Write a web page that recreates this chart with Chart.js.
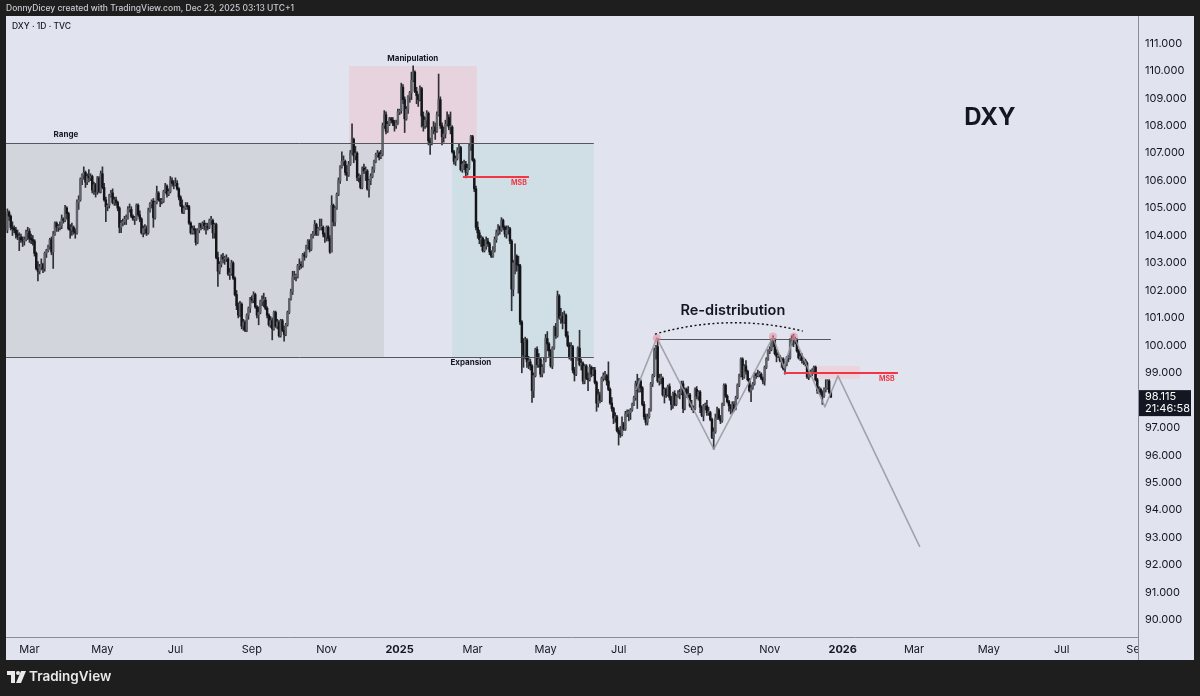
<!DOCTYPE html>
<html><head><meta charset="utf-8">
<script src="https://cdn.jsdelivr.net/npm/chart.js@4.4.1/dist/chart.umd.min.js"></script>
<style>html,body{margin:0;padding:0;background:#1e1e1e;overflow:hidden}</style>
</head><body>
<canvas id="c" width="1200" height="696"></canvas>
<script>
// ---------- DATA (daily OHLC [open, high, low, close]) ----------
const startDate = [2024, 2, 13];
const feb24 = [[104.20,104.97,104.10,104.85],[104.85,104.90,104.55,104.70],[104.70,104.75,104.20,104.30],[104.30,104.50,104.00,104.25],[104.25,104.35,104.10,104.20],[104.20,104.30,103.90,104.05],[104.05,104.20,103.85,103.95],[103.95,104.10,103.45,103.95],[103.95,104.05,103.75,103.85],[103.85,103.95,103.60,103.80],[103.80,103.95,103.65,103.85],[103.85,104.20,103.80,104.10],[104.10,104.30,103.85,104.15]];
const mar24 = [[104.15,104.25,103.75,103.90],[103.90,104.05,103.70,103.85],[103.85,104.00,103.65,103.80],[103.80,103.85,103.25,103.35],[103.35,103.40,102.75,102.80],[102.80,103.05,102.35,102.70],[102.70,102.95,102.60,102.85],[102.85,103.15,102.75,102.95],[102.95,103.00,102.65,102.80],[102.80,103.40,102.70,103.35],[103.35,103.50,103.20,103.45],[103.45,103.65,103.40,103.60],[103.60,103.90,103.50,103.85],[103.85,103.95,103.30,103.40],[103.40,104.15,102.80,104.05],[104.05,104.50,104.00,104.45],[104.45,104.50,104.15,104.30],[104.30,104.40,104.15,104.30],[104.30,104.50,104.20,104.35],[104.35,104.75,104.25,104.60],[104.60,104.65,104.45,104.55]];
const apr24 = [[104.55,105.10,104.50,105.00],[105.00,105.05,104.60,104.80],[104.80,104.85,104.20,104.25],[104.25,104.40,103.90,104.20],[104.20,104.45,104.00,104.30],[104.30,104.35,104.05,104.15],[104.15,104.25,103.90,104.10],[104.10,105.30,104.05,105.20],[105.20,105.45,104.95,105.30],[105.30,106.10,105.25,106.05],[106.05,106.25,105.85,106.20],[106.20,106.50,106.05,106.30],[106.30,106.35,105.75,105.95],[105.95,106.25,105.85,106.15],[106.15,106.40,105.95,106.10],[106.10,106.25,106.00,106.15],[106.15,106.20,105.55,105.65],[105.65,105.95,105.50,105.85],[105.85,105.90,105.40,105.60],[105.60,106.15,105.50,106.10],[106.10,106.15,105.55,105.60],[105.60,106.35,105.55,106.25]];
const may24 = [[106.25,106.50,105.70,105.75],[105.75,105.90,105.25,105.30],[105.30,105.40,104.50,105.05],[105.05,105.15,104.90,105.10],[105.10,105.50,105.00,105.45],[105.45,105.65,105.40,105.55],[105.55,105.70,105.15,105.20],[105.20,105.40,105.10,105.30],[105.30,105.40,105.10,105.20],[105.20,105.25,104.90,105.00],[105.00,105.05,104.10,104.30],[104.30,104.55,104.10,104.45],[104.45,104.60,104.35,104.50],[104.50,104.70,104.40,104.60],[104.60,104.75,104.40,104.65],[104.65,105.05,104.60,104.95],[104.95,105.15,104.85,104.95],[104.95,105.05,104.65,104.70],[104.70,104.75,104.55,104.60],[104.60,104.70,104.40,104.60],[104.60,105.15,104.55,105.10],[105.10,105.15,104.70,104.75],[104.75,104.90,104.50,104.60]];
const jun24 = [[104.60,104.65,104.05,104.10],[104.10,104.35,103.95,104.25],[104.25,104.40,104.05,104.25],[104.25,104.35,104.00,104.10],[104.10,105.00,104.05,104.90],[104.90,105.20,104.85,105.15],[105.15,105.30,105.00,105.25],[105.25,105.35,104.30,104.65],[104.65,105.25,104.60,105.20],[105.20,105.80,105.15,105.55],[105.55,105.60,105.25,105.30],[105.30,105.35,105.05,105.25],[105.25,105.35,105.15,105.25],[105.25,105.65,105.20,105.60],[105.60,105.90,105.55,105.80],[105.80,105.85,105.40,105.50],[105.50,105.70,105.45,105.60],[105.60,106.15,105.55,106.00],[106.00,106.10,105.80,105.90],[105.90,106.00,105.70,105.85]];
const jul24 = [[105.85,106.10,105.80,105.90],[105.90,106.00,105.65,105.70],[105.70,105.75,105.30,105.40],[105.40,105.45,105.05,105.10],[105.10,105.30,104.80,104.85],[104.85,105.05,104.80,105.00],[105.00,105.20,104.95,105.10],[105.10,105.20,104.95,105.05],[105.05,105.10,104.40,104.45],[104.45,104.50,104.05,104.10],[104.10,104.35,104.05,104.25],[104.25,104.35,104.05,104.20],[104.20,104.25,103.65,103.75],[103.75,104.25,103.70,104.20],[104.20,104.45,104.10,104.40],[104.40,104.45,104.20,104.30],[104.30,104.50,104.25,104.45],[104.45,104.55,104.20,104.35],[104.35,104.45,104.05,104.35],[104.35,104.45,104.20,104.30],[104.30,104.60,104.25,104.55],[104.55,104.70,104.40,104.55],[104.55,104.60,103.90,104.10]];
const aug24 = [[104.10,104.45,103.90,104.40],[104.40,104.45,103.15,103.20],[103.20,103.40,102.15,102.70],[102.70,103.05,102.60,102.95],[102.95,103.30,102.85,103.20],[103.20,103.35,103.00,103.15],[103.15,103.25,102.95,103.15],[103.15,103.30,103.05,103.15],[103.15,103.20,102.55,102.60],[102.60,102.80,102.40,102.60],[102.60,103.10,102.55,103.00],[103.00,103.05,102.40,102.45],[102.45,102.50,101.80,101.85],[101.85,102.00,101.30,101.45],[101.45,101.55,101.00,101.10],[101.10,101.60,101.05,101.50],[101.50,101.55,100.60,100.70],[100.70,100.95,100.55,100.85],[100.85,100.90,100.50,100.55],[100.55,101.15,100.50,101.10],[101.10,101.40,100.95,101.35],[101.35,101.75,101.20,101.70]];
const sep24 = [[101.70,101.80,101.55,101.65],[101.65,101.95,101.55,101.85],[101.85,101.90,101.35,101.40],[101.40,101.45,101.00,101.10],[101.10,101.40,100.75,101.20],[101.20,101.65,101.15,101.60],[101.60,101.80,101.45,101.65],[101.65,101.90,101.40,101.65],[101.65,101.75,101.30,101.35],[101.35,101.40,101.00,101.10],[101.10,101.15,100.70,100.75],[100.75,101.05,100.65,100.90],[100.90,101.00,100.20,100.60],[100.60,101.25,100.55,101.20],[101.20,101.25,100.65,100.70],[100.70,100.95,100.60,100.85],[100.85,100.90,100.30,100.35],[100.35,100.95,100.30,100.90],[100.90,100.95,100.50,100.55],[100.55,100.70,100.15,100.40],[100.40,100.80,100.35,100.75]];
const oct24 = [[100.75,101.25,100.70,101.20],[101.20,101.70,101.15,101.70],[101.70,102.05,101.65,101.95],[101.95,102.70,101.85,102.50],[102.50,102.70,102.40,102.50],[102.50,102.60,102.35,102.50],[102.50,102.95,102.45,102.90],[102.90,103.15,102.75,102.95],[102.95,103.05,102.80,102.90],[102.90,103.35,102.85,103.30],[103.30,103.40,103.10,103.25],[103.25,103.65,103.20,103.60],[103.60,103.85,103.50,103.80],[103.80,103.85,103.40,103.50],[103.50,104.05,103.45,104.00],[104.00,104.15,103.90,104.05],[104.05,104.55,104.00,104.40],[104.40,104.45,104.00,104.05],[104.05,104.30,104.00,104.25],[104.25,104.60,104.20,104.30],[104.30,104.60,104.20,104.30],[104.30,104.35,103.95,104.05],[104.05,104.10,103.75,103.95]];
const nov24 = [[103.95,104.35,103.80,104.30],[104.30,104.35,103.80,103.90],[103.90,104.00,103.35,103.40],[103.40,105.45,103.40,105.10],[105.10,105.15,104.35,104.50],[104.50,105.05,104.35,105.00],[105.00,105.55,104.95,105.50],[105.50,106.10,105.45,106.00],[106.00,106.55,105.90,106.50],[106.50,107.05,106.45,106.70],[106.70,106.90,106.55,106.70],[106.70,106.75,106.20,106.30],[106.30,106.55,106.00,106.20],[106.20,106.70,106.15,106.60],[106.60,107.10,106.55,107.00],[107.00,108.07,106.95,107.50],[107.50,107.55,106.65,106.90],[106.90,107.25,106.75,107.00],[107.00,107.05,106.00,106.10],[106.10,106.25,105.95,106.10],[106.10,106.20,105.70,105.75]];
const dec24 = [[105.75,106.50,105.70,106.45],[106.45,106.60,106.25,106.35],[106.35,106.50,106.00,106.35],[106.35,106.40,105.65,105.70],[105.70,106.05,105.40,106.00],[106.00,106.25,105.85,106.15],[106.15,106.50,106.10,106.40],[106.40,106.75,106.30,106.70],[106.70,107.00,106.65,106.95],[106.95,107.10,106.85,107.00],[107.00,107.05,106.75,106.85],[106.85,107.10,106.80,106.95],[106.95,108.10,106.90,108.00],[108.00,108.55,107.90,108.40],[108.40,108.50,107.70,107.80],[107.80,108.15,107.75,108.05],[108.05,108.30,108.00,108.25],[108.25,108.30,108.10,108.20],[108.20,108.30,108.00,108.10],[108.10,108.20,107.80,108.00],[108.00,108.20,107.90,108.10],[108.10,108.60,108.05,108.50]];
const jan25 = [[108.50,108.60,108.40,108.55],[108.55,109.55,108.45,109.40],[109.40,109.50,108.80,108.95],[108.95,109.05,107.75,108.25],[108.25,108.70,108.20,108.60],[108.60,109.10,108.45,109.05],[109.05,109.25,108.85,109.20],[109.20,109.95,108.95,109.65],[109.65,110.18,109.60,109.95],[109.95,110.00,109.20,109.25],[109.25,109.40,108.80,109.10],[109.10,109.15,108.70,108.95],[108.95,109.45,108.90,109.35],[109.35,109.40,107.95,108.35],[108.35,108.50,107.80,108.00],[108.00,108.30,107.90,108.20],[108.20,108.55,107.95,108.45],[108.45,108.50,107.30,107.45],[107.45,107.55,106.95,107.35],[107.35,107.95,107.30,107.85],[107.85,108.15,107.70,107.95],[107.95,108.10,107.50,107.80],[107.80,108.50,107.75,108.40]];
const feb25 = [[108.40,109.88,108.35,108.95],[108.95,109.05,107.90,108.00],[108.00,108.10,107.30,107.60],[107.60,107.95,107.40,107.70],[107.70,108.20,107.55,108.05],[108.05,108.50,108.00,108.30],[108.30,108.40,107.85,107.95],[107.95,108.50,107.70,107.95],[107.95,108.00,107.00,107.05],[107.05,107.10,106.60,106.70],[106.70,106.90,106.55,106.80],[106.80,107.20,106.75,107.10],[107.10,107.35,107.00,107.20],[107.20,107.25,106.35,106.40],[106.40,106.70,106.30,106.60],[106.60,106.75,106.40,106.60],[106.60,106.70,106.10,106.30],[106.30,106.60,106.20,106.45],[106.45,107.35,106.40,107.25],[107.25,107.65,107.10,107.60]];
const mar25 = [[107.60,107.65,106.70,106.75],[106.75,106.80,105.60,105.70],[105.70,105.80,104.20,104.30],[104.30,104.50,103.90,104.10],[104.10,104.20,103.70,103.85],[103.85,104.00,103.60,103.90],[103.90,103.95,103.40,103.45],[103.45,103.85,103.40,103.60],[103.60,103.95,103.50,103.80],[103.80,103.90,103.60,103.70],[103.70,103.75,103.30,103.40],[103.40,103.45,103.20,103.25],[103.25,103.60,103.20,103.45],[103.45,103.95,103.40,103.85],[103.85,104.20,103.75,104.10],[104.10,104.40,104.00,104.30],[104.30,104.35,104.05,104.20],[104.20,104.65,104.15,104.55],[104.55,104.60,104.20,104.30],[104.30,104.35,103.95,104.05],[104.05,104.35,103.90,104.20]];
const apr25 = [[104.20,104.35,104.05,104.25],[104.25,104.30,103.70,103.80],[103.80,103.85,101.26,102.05],[102.05,103.10,101.80,103.00],[103.00,103.70,102.60,103.25],[103.25,103.30,102.70,102.95],[102.95,103.25,101.90,102.90],[102.90,102.95,100.75,100.85],[100.85,100.90,99.00,100.10],[100.10,100.25,99.20,99.65],[99.65,100.30,99.50,100.20],[100.20,100.25,99.20,99.40],[99.40,99.60,99.15,99.40],[99.40,99.50,99.10,99.25],[99.25,99.30,97.92,98.35],[98.35,99.00,98.10,98.90],[98.90,99.90,98.85,99.85],[99.85,99.95,99.20,99.30],[99.30,99.70,99.20,99.50],[99.50,99.55,98.85,98.95],[98.95,99.30,98.85,99.20],[99.20,99.55,99.00,99.45]];
const may25 = [[99.45,100.40,99.40,100.25],[100.25,100.50,99.80,100.05],[100.05,100.10,99.60,99.80],[99.80,99.85,99.20,99.25],[99.25,99.95,99.15,99.90],[99.90,100.70,99.85,100.65],[100.65,100.80,100.25,100.35],[100.35,101.98,100.30,101.80],[101.80,101.85,100.95,101.00],[101.00,101.35,100.80,101.05],[101.05,101.20,100.60,100.85],[100.85,101.25,100.80,101.10],[101.10,101.15,100.30,100.35],[100.35,100.50,99.95,100.00],[100.00,100.10,99.50,99.55],[99.55,100.10,99.45,99.95],[99.95,100.00,99.00,99.10],[99.10,99.20,98.70,98.95],[98.95,99.55,98.90,99.50],[99.50,99.95,99.45,99.90],[99.90,100.55,99.25,99.30],[99.30,99.50,99.10,99.35]];
const jun25 = [[99.35,99.40,98.60,98.70],[98.70,99.30,98.60,99.25],[99.25,99.30,98.75,98.80],[98.80,99.00,98.35,98.75],[98.75,99.30,98.70,99.20],[99.20,99.25,98.85,98.95],[98.95,99.20,98.90,99.10],[99.10,99.20,98.60,98.65],[98.65,98.70,97.60,97.90],[97.90,98.40,97.75,98.20],[98.20,98.30,97.90,98.00],[98.00,98.85,97.95,98.80],[98.80,99.00,98.70,98.90],[98.90,99.05,98.75,98.90],[98.90,98.95,98.55,98.70],[98.70,99.40,98.35,98.40],[98.40,98.45,97.85,97.90],[97.90,98.10,97.60,97.70],[97.70,97.75,97.15,97.35],[97.35,97.55,97.20,97.40],[97.40,97.45,96.85,96.90]];
const jul25 = [[96.90,97.00,96.37,96.80],[96.80,97.05,96.65,96.75],[96.75,97.40,96.70,97.15],[97.15,97.20,96.90,96.95],[96.95,97.60,96.90,97.50],[97.50,97.65,97.40,97.55],[97.55,97.65,97.25,97.55],[97.55,97.70,97.30,97.65],[97.65,97.90,97.60,97.85],[97.85,98.15,97.80,98.10],[98.10,98.70,98.00,98.60],[98.60,98.95,97.70,98.35],[98.35,98.80,98.30,98.70],[98.70,98.75,98.30,98.45],[98.45,98.50,97.80,97.85],[97.85,97.95,97.30,97.40],[97.40,97.50,97.10,97.20],[97.20,97.50,97.10,97.40],[97.40,97.70,97.35,97.65],[97.65,98.65,97.60,98.60],[98.60,98.95,98.50,98.90],[98.90,99.90,98.85,99.80],[99.80,100.00,99.50,99.95]];
const aug25 = [[99.95,100.25,98.65,98.70],[98.70,98.95,98.55,98.80],[98.80,98.95,98.60,98.80],[98.80,98.85,98.15,98.20],[98.20,98.45,97.90,98.40],[98.40,98.45,98.10,98.20],[98.20,98.55,98.15,98.50],[98.50,98.60,98.00,98.10],[98.10,98.15,97.65,97.85],[97.85,98.30,97.70,98.25],[98.25,98.35,97.80,97.85],[97.85,98.20,97.80,98.15],[98.15,98.35,98.10,98.25],[98.25,98.40,98.05,98.25],[98.25,98.70,98.20,98.60],[98.60,98.70,97.55,97.70],[97.70,98.45,97.65,98.40],[98.40,98.45,98.10,98.20],[98.20,98.50,98.10,98.20],[98.20,98.25,97.75,97.80],[97.80,98.00,97.65,97.75]];
const sep25 = [[97.75,97.80,97.55,97.70],[97.70,98.45,97.65,98.40],[98.40,98.50,98.05,98.15],[98.15,98.35,98.00,98.30],[98.30,98.35,97.55,97.75],[97.75,97.80,97.40,97.45],[97.45,97.85,97.25,97.80],[97.80,97.90,97.65,97.80],[97.80,98.00,97.45,97.55],[97.55,97.75,97.45,97.55],[97.55,97.60,97.25,97.30],[97.30,97.35,96.60,96.65],[96.65,97.00,96.22,96.85],[96.85,97.50,96.80,97.35],[97.35,97.75,97.30,97.65],[97.65,97.70,97.30,97.35],[97.35,97.45,97.15,97.25],[97.25,97.90,97.20,97.85],[97.85,98.60,97.80,98.55],[98.55,98.60,98.10,98.15],[98.15,98.20,97.90,97.95],[97.95,98.00,97.60,97.80]];
const oct25 = [[97.80,97.85,97.50,97.70],[97.70,97.95,97.55,97.85],[97.85,97.95,97.60,97.70],[97.70,98.15,97.65,98.10],[98.10,98.60,98.05,98.55],[98.55,98.95,98.50,98.90],[98.90,99.55,98.85,99.50],[99.50,99.55,98.75,98.85],[98.85,99.30,98.80,99.25],[99.25,99.45,98.95,99.05],[99.05,99.10,98.70,98.75],[98.75,98.80,98.30,98.35],[98.35,98.55,97.95,98.45],[98.45,98.65,98.40,98.60],[98.60,99.00,98.55,98.95],[98.95,99.00,98.80,98.90],[98.90,99.10,98.85,98.95],[98.95,99.05,98.85,98.95],[98.95,99.00,98.75,98.80],[98.80,98.85,98.60,98.70],[98.70,99.25,98.55,99.20],[99.20,99.55,99.15,99.50],[99.50,99.85,99.45,99.80]];
const nov25 = [[99.80,99.95,99.70,99.85],[99.85,100.25,99.80,100.20],[100.20,100.35,99.95,100.20],[100.20,100.25,99.65,99.70],[99.70,99.85,99.40,99.60],[99.60,99.75,99.55,99.60],[99.60,99.65,99.40,99.45],[99.45,99.55,99.20,99.50],[99.50,99.55,99.10,99.15],[99.15,99.40,98.95,99.30],[99.30,99.60,99.25,99.55],[99.55,99.65,99.40,99.55],[99.55,100.25,99.50,100.20],[100.20,100.35,100.00,100.20],[100.20,100.40,99.95,100.15],[100.15,100.30,100.05,100.20],[100.20,100.25,99.75,99.80],[99.80,99.85,99.50,99.55],[99.55,99.70,99.45,99.60],[99.60,99.70,99.35,99.45]];
const dec25 = [[99.45,99.55,99.30,99.45],[99.45,99.50,99.25,99.35],[99.35,99.40,98.80,98.85],[98.85,99.05,98.75,98.95],[98.95,99.10,98.85,98.95],[98.95,99.15,98.90,99.10],[99.10,99.25,99.00,99.20],[99.20,99.25,98.70,98.75],[98.75,98.80,98.25,98.35],[98.35,98.50,98.25,98.40],[98.40,98.45,98.20,98.30],[98.30,98.35,97.85,98.15],[98.15,98.45,98.10,98.40],[98.40,98.75,98.30,98.45],[98.45,98.75,98.40,98.70],[98.70,98.75,98.25,98.30],[98.30,98.30,98.10,98.115]];

const yTicks = [90,91,92,93,94,95,96,97,98,99,100,101,102,103,104,105,106,107,108,109,110,111];
const xTickLabels = ['Mar','May','Jul','Sep','Nov','2025','Mar','May','Jul','Sep','Nov','2026','Mar','May','Jul','Sep'];
const xTickMonths = [[2024,3],[2024,5],[2024,7],[2024,9],[2024,11],[2025,1],[2025,3],[2025,5],[2025,7],[2025,9],[2025,11],[2026,1],[2026,3],[2026,5],[2026,7],[2026,9]];
const lastPrice = 98.115;
const lastPriceTime = '21:46:58';

// annotation anchors (trading-day index, price level)
const rangeTop = 107.37, rangeBottom = 99.58;
const manipTop = 110.17;
const msb1Level = 106.13, msb2Level = 98.99;
const redistLevel = 100.25;
const zigzag = [[401.2,98.37],[413.5,100.27],[447.1,96.22],[481.9,100.30],[488.3,99.2],[494.2,100.34],[512.5,97.76],[520.2,98.89],[568.4,92.66]];

// ---------- helpers ----------
function weekdayIndex(y, m, d) { // trading-day index counted from Mon 2024-01-01
  const days = Math.round((Date.UTC(y, m - 1, d) - Date.UTC(2024, 0, 1)) / 86400000);
  const w = Math.floor(days / 7), r = days - w * 7;
  return w * 5 + Math.min(r, 5);
}
const candles = [].concat(feb24, mar24, apr24, may24, jun24, jul24, aug24, sep24, oct24, nov24, dec24,
  jan25, feb25, mar25, apr25, may25, jun25, jul25, aug25, sep25, oct25, nov25, dec25);
const startIdx = weekdayIndex(...startDate);
const xTicks = xTickMonths.map(([y, m]) => weekdayIndex(y, m, 1));

const UP = '#62646c', DOWN = '#141518', WICK = '#2e3036';
const BG = '#e1e4ee';
const FONT = 'Inter, "Noto Sans", "Liberation Sans", sans-serif';

const wickData = candles.map((c, i) => ({x: startIdx + i, y: [c[2], c[1]]}));
const bodyData = candles.map((c, i) => ({x: startIdx + i, y: [c[0], c[3]]}));
const colorOf = (ctx) => { const c = candles[ctx.dataIndex]; return c && c[3] >= c[0] ? UP : DOWN; };

const frame = {
  id: 'frame',
  beforeDraw(chart) {
    const ctx = chart.ctx;
    ctx.save();
    ctx.fillStyle = '#1e1e1e';
    ctx.fillRect(0, 0, 1200, 696);
    ctx.fillStyle = BG;
    ctx.fillRect(6, 16, 1188, 644);
    ctx.restore();
  },
  beforeDatasetsDraw(chart) {
    const {ctx, chartArea: a, scales: {x, y}} = chart;
    ctx.save();
    ctx.beginPath(); ctx.rect(a.left, a.top, a.right - a.left, a.bottom - a.top); ctx.clip();
    const box = (i0, i1, v0, v1, col) => {
      const X0 = x.getPixelForValue(i0), X1 = x.getPixelForValue(i1);
      const Y0 = y.getPixelForValue(v0), Y1 = y.getPixelForValue(v1);
      ctx.fillStyle = col; ctx.fillRect(X0, Y1, X1 - X0, Y0 - Y1);
    };
    box(0, 252.8, rangeBottom, rangeTop, '#d3d5dc');
    box(232.2, 307.5, rangeTop, manipTop, '#e6d3dd');
    box(292.8, 376.4, rangeBottom, rangeTop, '#cfdfe5');
    box(504.8, 533.1, 98.78, 99.25, '#ebd5dc');
    ctx.restore();
  },
  afterDatasetsDraw(chart) {
    const {ctx, chartArea: a, scales: {x, y}} = chart;
    const X = v => x.getPixelForValue(v), Y = v => y.getPixelForValue(v);
    ctx.save();
    ctx.beginPath(); ctx.rect(a.left, a.top, a.right - a.left, a.bottom - a.top); ctx.clip();
    const hline = (i0, i1, v, col, w) => {
      ctx.strokeStyle = col; ctx.lineWidth = w; ctx.beginPath();
      const yy = Math.round(Y(v)) + (w % 2 ? 0.5 : 0);
      ctx.moveTo(X(i0), yy); ctx.lineTo(X(i1), yy); ctx.stroke();
    };
    hline(0, 376.4, rangeTop, '#55575e', 1);
    hline(0, 376.4, rangeBottom, '#55575e', 1);
    hline(413.5, 516, redistLevel, '#55575e', 1);
    hline(299.3, 338.2, msb1Level, '#f23645', 2);
    hline(488.3, 555.5, msb2Level, '#f23645', 2);
    // zigzag projection
    ctx.strokeStyle = 'rgba(150,152,160,0.85)'; ctx.lineWidth = 1.6; ctx.lineJoin = 'round';
    ctx.beginPath();
    zigzag.forEach((p, k) => { k ? ctx.lineTo(X(p[0]), Y(p[1])) : ctx.moveTo(X(p[0]), Y(p[1])); });
    ctx.stroke();
    // pink markers
    ctx.fillStyle = 'rgba(238,120,140,0.45)';
    [[413.5, 100.27], [481.9, 100.32], [494.2, 100.32]].forEach(p => {
      ctx.beginPath(); ctx.arc(X(p[0]), Y(p[1]), 4, 0, Math.PI * 2); ctx.fill();
    });
    // dotted arc
    ctx.strokeStyle = '#111'; ctx.lineWidth = 1.4; ctx.setLineDash([2, 2.5]);
    ctx.beginPath(); ctx.moveTo(X(412.4), Y(100.41));
    ctx.quadraticCurveTo(X(455.9), Y(101.18), X(499.5), Y(100.52)); ctx.stroke();
    ctx.setLineDash([]);
    // labels
    ctx.textAlign = 'center'; ctx.textBaseline = 'middle';
    ctx.fillStyle = '#131722';
    ctx.font = 'bold 8px ' + FONT;
    ctx.fillText('Range', X(65.5), Y(107.66));
    ctx.fillText('Manipulation', X(269.8), Y(110.43));
    ctx.fillText('Expansion', X(304), Y(99.36));
    ctx.font = '600 14.5px ' + FONT;
    ctx.fillText('Re-distribution', X(458.3), Y(101.25));
    ctx.font = 'bold 24px ' + FONT;
    ctx.fillText('DXY', X(609.7), Y(108.28));
    ctx.fillStyle = '#f23645';
    ctx.font = 'bold 7px ' + FONT;
    ctx.fillText('MSB', X(332.3), Y(105.9));
    ctx.fillText('MSB', X(549), Y(98.78));
    ctx.restore();
  },
  afterDraw(chart) {
    const {ctx, chartArea: a, scales: {y}} = chart;
    ctx.save();
    // cover the part of the time axis under the price scale
    ctx.fillStyle = BG; ctx.fillRect(a.right + 0.5, a.bottom + 0.5, 1194 - a.right - 0.5, 660 - a.bottom - 0.5);
    ctx.strokeStyle = '#8a8d96'; ctx.lineWidth = 1;
    ctx.beginPath(); ctx.moveTo(a.right + 0.5, a.bottom); ctx.lineTo(a.right + 0.5, 660); ctx.stroke();
    // header / footer texts
    ctx.textBaseline = 'middle'; ctx.textAlign = 'left';
    ctx.fillStyle = '#c9cbd1'; ctx.font = '500 8.5px ' + FONT;
    ctx.fillText('DonnyDicey created with TradingView.com, Dec 23, 2025 03:13 UTC+1', 6, 8.5);
    ctx.fillStyle = '#131722'; ctx.font = '500 8.5px ' + FONT;
    ctx.fillText('DXY · 1D · TVC', 12, 26);
    // last price label
    const py = y.getPixelForValue(lastPrice);
    ctx.fillStyle = '#131722';
    ctx.fillRect(a.right + 1, py - 7, 52, 26);
    ctx.fillStyle = '#ffffff'; ctx.font = '11px ' + FONT;
    ctx.fillText(lastPrice.toFixed(3), a.right + 7, py);
    ctx.fillText(lastPriceTime, a.right + 7, py + 12);
    // TradingView footer
    ctx.fillStyle = '#e9e9ea';
    ctx.fillRect(7, 671, 8, 4);
    ctx.fillRect(11, 671, 4, 12);
    ctx.beginPath(); ctx.arc(18, 673, 2, 0, Math.PI * 2); ctx.fill();
    ctx.beginPath(); ctx.moveTo(21, 671); ctx.lineTo(26, 671); ctx.lineTo(21, 683); ctx.lineTo(16, 683); ctx.closePath(); ctx.fill();
    ctx.font = '600 13.5px ' + FONT;
    ctx.fillText('TradingView', 29, 677);
    ctx.restore();
  }
};

new Chart(document.getElementById('c'), {
  type: 'bar',
  data: {
    datasets: [
      {label: 'wick', data: wickData, backgroundColor: WICK, barThickness: 1, grouped: false, borderWidth: 0, borderSkipped: false, order: 2},
      {label: 'body', data: bodyData, backgroundColor: colorOf, barThickness: 1.8, grouped: false, borderWidth: 0, borderSkipped: false, minBarLength: 1, order: 1}
    ]
  },
  options: {
    responsive: false, animation: false, devicePixelRatio: 1,
    layout: {padding: {left: 6, top: 16, right: 6, bottom: 36}},
    plugins: {legend: {display: false}, tooltip: {enabled: false}},
    scales: {
      x: {
        type: 'linear', min: 30.2, max: 696.9, offset: false,
        grid: {display: false, drawTicks: false},
        border: {display: true, color: '#8a8d96'},
        afterBuildTicks: s => { s.ticks = xTicks.map(v => ({value: v})); },
        afterFit: s => { s.height = 23; },
        ticks: {
          autoSkip: false, maxRotation: 0, padding: 6, color: '#131722',
          font: c => ({family: FONT, size: 11, weight: /^\d{4}$/.test(xTickLabels[c.index]) ? 'bold' : 'normal'}),
          callback: (v, i) => xTickLabels[i]
        }
      },
      y: {
        type: 'linear', position: 'right', min: 89.38, max: 111.994,
        grid: {display: false, drawTicks: false},
        border: {display: true, color: '#8a8d96'},
        afterBuildTicks: s => { s.ticks = yTicks.map(v => ({value: v})); },
        afterFit: s => { s.width = 56; },
        ticks: {padding: 7, color: '#131722', font: {family: FONT, size: 11}, callback: v => Number(v).toFixed(3)}
      }
    }
  },
  plugins: [frame]
});
</script>
</body></html>
